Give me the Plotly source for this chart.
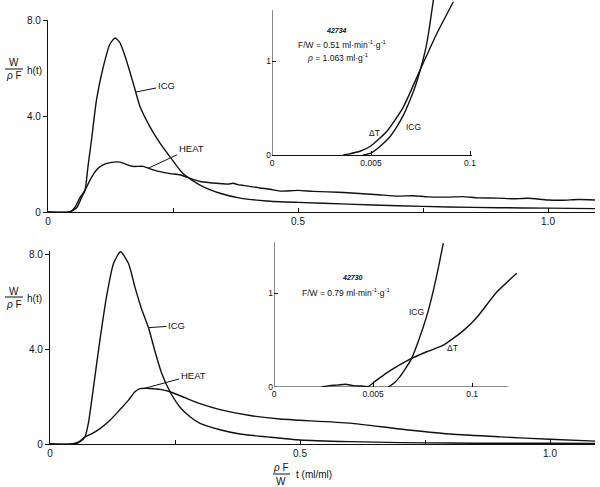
import plotly.graph_objects as go

# ---------------- data ----------------
top_icg_t = [0, 0.04, 0.048, 0.058, 0.067, 0.074, 0.08, 0.087, 0.097, 0.11, 0.124, 0.134, 0.144,
             0.154, 0.17, 0.184, 0.204, 0.224, 0.244, 0.27, 0.304, 0.344, 0.384, 0.437, 0.5,
             0.6, 0.7, 0.8, 0.9, 1.0, 1.094]
top_icg = [0, 0, 0.05, 0.2, 0.6, 0.9, 1.9, 3.0, 4.67, 6.0, 7.0, 7.25, 7.05,
           6.5, 5.4, 4.4, 3.55, 2.87, 2.3, 1.6, 1.12, 0.78, 0.58, 0.46, 0.4,
           0.33, 0.26, 0.21, 0.18, 0.16, 0.14]

top_heat_t = [0, 0.044, 0.054, 0.064, 0.074, 0.084, 0.097, 0.11, 0.127, 0.144, 0.157, 0.17, 0.19,
              0.204, 0.224, 0.245, 0.264, 0.284, 0.304, 0.324, 0.344, 0.36, 0.37, 0.38, 0.4,
              0.424, 0.444, 0.464, 0.5, 0.53, 0.56, 0.6, 0.63, 0.66, 0.7, 0.73, 0.76, 0.8,
              0.83, 0.86, 0.9, 0.93, 0.96, 1.0, 1.03, 1.06, 1.094]
top_heat = [0, 0, 0.2, 0.6, 0.9, 1.33, 1.75, 1.96, 2.07, 2.08, 1.98, 1.9, 1.9,
            1.8, 1.68, 1.6, 1.55, 1.4, 1.27, 1.22, 1.19, 1.16, 1.2, 1.14, 1.08,
            1.0, 0.95, 0.87, 0.9, 0.86, 0.84, 0.8, 0.76, 0.72, 0.66, 0.68, 0.63, 0.62,
            0.64, 0.59, 0.58, 0.55, 0.57, 0.5, 0.49, 0.52, 0.5]

bot_icg_t = [0, 0.05, 0.06, 0.07, 0.077, 0.087, 0.1, 0.113, 0.127, 0.141, 0.157, 0.17, 0.183,
             0.197, 0.21, 0.223, 0.24, 0.26, 0.28, 0.3, 0.34, 0.38, 0.434, 0.5, 0.6, 0.7,
             0.8, 0.9, 1.0, 1.09]
bot_icg = [0, 0, 0.1, 0.3, 0.9, 2.4, 4.4, 6.2, 7.6, 8.1, 7.6, 6.6, 5.7,
           4.9, 3.9, 3.0, 2.2, 1.55, 1.15, 0.87, 0.6, 0.42, 0.3, 0.17, 0.1, 0.06,
           0.04, 0.03, 0.03, 0.02]

bot_heat_t = [0, 0.04, 0.05, 0.06, 0.07, 0.085, 0.1, 0.12, 0.14, 0.157, 0.17, 0.18, 0.194,
              0.21, 0.22, 0.24, 0.27, 0.3, 0.34, 0.4, 0.46, 0.5, 0.6, 0.7, 0.8, 0.9, 1.0, 1.09]
bot_heat = [0, 0, 0.03, 0.12, 0.3, 0.45, 0.65, 1.0, 1.45, 1.85, 2.2, 2.33, 2.35,
            2.32, 2.3, 2.2, 1.95, 1.7, 1.45, 1.2, 1.05, 1.0, 0.88, 0.63, 0.42, 0.3, 0.2, 0.12]

# insets
top_dt_in_t = [0.036, 0.0386, 0.0445, 0.0495, 0.0579, 0.0663, 0.0751, 0.0832, 0.0916]
top_dt_in = [0, 0.01, 0.04, 0.09, 0.25, 0.51, 0.92, 1.29, 1.63]
top_icg_in_t = [0.046, 0.05, 0.0545, 0.059, 0.063, 0.0665, 0.0697, 0.0725, 0.0751, 0.0775, 0.079, 0.0815]
top_icg_in = [0, 0.02, 0.09, 0.18, 0.3, 0.43, 0.585, 0.74, 0.92, 1.12, 1.29, 1.65]

bot_dt_in_t = [0.024, 0.028, 0.032, 0.036, 0.04, 0.044, 0.0475, 0.051, 0.0569, 0.063, 0.0695,
               0.0771, 0.0855, 0.0956, 0.1024, 0.1125, 0.1226]
bot_dt_in = [0, 0.015, 0.02, 0.03, 0.015, 0.01, 0.005, 0.06, 0.15, 0.23, 0.305,
             0.375, 0.445, 0.6, 0.74, 1.01, 1.21]
bot_icg_in_t = [0.0577, 0.0605, 0.0636, 0.0665, 0.0695, 0.0754, 0.078, 0.0805, 0.083, 0.0855]
bot_icg_in = [0, 0.04, 0.11, 0.2, 0.305, 0.64, 0.82, 1.03, 1.27, 1.53]

main_xticks = [0, 0.5, 1.0]
main_xtext = ["0", "0.5", "1.0"]
main_xminor = [0.25, 0.75]
main_yticks = [0, 4, 8]
main_ytext = ["0", "4.0", "8.0"]
in_xticks = [0, 0.05, 0.1]
in_xtext = ["0", "0.005", "0.1"]
in_yticks = [0, 1]
in_ytext = ["0", "1"]

# ---------------- figure ----------------
W, H = 600, 487
FONT = "Liberation Sans, Arial, sans-serif"
INK = "#111111"


def px(x):
    return x / W


def py(y):
    return 1 - y / H


fig = go.Figure()
line = dict(color=INK, width=1.4, shape="spline", smoothing=0.6)


def add(t, v, xa, ya):
    fig.add_trace(go.Scatter(x=t, y=v, mode="lines", line=line, xaxis=xa, yaxis=ya,
                             showlegend=False, hoverinfo="skip", cliponaxis=True))


add(top_icg_t, top_icg, "x", "y")
add(top_heat_t, top_heat, "x", "y")
add(bot_icg_t, bot_icg, "x2", "y2")
add(bot_heat_t, bot_heat, "x2", "y2")
add(top_dt_in_t, top_dt_in, "x3", "y3")
add(top_icg_in_t, top_icg_in, "x3", "y3")
add(bot_dt_in_t, bot_dt_in, "x4", "y4")
add(bot_icg_in_t, bot_icg_in, "x4", "y4")

main_font = dict(family=FONT, size=10, color=INK)
in_font = dict(family=FONT, size=8.5, color=INK)
common = dict(showgrid=False, zeroline=False, tickcolor=INK,
              linecolor=INK, linewidth=1.2, ticklen=4, tickwidth=1, automargin=False)
minor = dict(tickvals=main_xminor, ticks="inside", ticklen=4, tickcolor=INK, tickwidth=1, showgrid=False)

fig.update_layout(
    width=W, height=H, margin=dict(l=0, r=0, t=0, b=0, autoexpand=False),
    paper_bgcolor="white", plot_bgcolor="rgba(0,0,0,0)",
    xaxis=dict(domain=[px(48), px(595)], range=[0, 1.094], anchor="y", showline=True,
               tickmode="array", tickvals=main_xticks, ticktext=main_xtext, ticks="inside",
               minor=minor, tickfont=main_font, **common),
    yaxis=dict(domain=[py(212), py(20)], range=[0, 8], anchor="x", showline=True,
               tickmode="array", tickvals=main_yticks, ticktext=main_ytext, ticks="outside",
               tickfont=main_font, **common),
    xaxis2=dict(domain=[px(50), px(595)], range=[0, 1.09], anchor="y2", showline=True,
                tickmode="array", tickvals=main_xticks, ticktext=main_xtext, ticks="inside",
                minor=minor, tickfont=main_font, **common),
    yaxis2=dict(domain=[py(444), py(251)], range=[0, 8.13], anchor="x2", showline=True,
                tickmode="array", tickvals=main_yticks, ticktext=main_ytext, ticks="outside",
                tickfont=main_font, **common),
    xaxis3=dict(domain=[px(272), px(472)], range=[0, 0.101], anchor="y3", showline=True,
                tickmode="array", tickvals=in_xticks, ticktext=in_xtext, ticks="inside",
                tickfont=in_font, **common),
    yaxis3=dict(domain=[py(155), py(0)], range=[0, 155 / 94], anchor="x3", showline=False,
                tickmode="array", tickvals=in_yticks, ticktext=in_ytext, ticks="inside",
                tickfont=in_font, **common),
    xaxis4=dict(domain=[px(274), px(519)], range=[0, 0.1237], anchor="y4", showline=False,
                tickmode="array", tickvals=in_xticks, ticktext=in_xtext, ticks="inside",
                tickfont=in_font, **common),
    yaxis4=dict(domain=[py(387), py(237)], range=[0, 150 / 94], anchor="x4", showline=False,
                tickmode="array", tickvals=in_yticks, ticktext=in_ytext, ticks="inside",
                tickfont=in_font, **common),
)

# inset axis lines (shorter than plot area)
shapes = [
    dict(type="line", xref="x3", yref="y3", x0=0, x1=0, y0=0, y1=1.54),
    dict(type="line", xref="x4", yref="y4", x0=0, x1=0, y0=0, y1=1.54),
    dict(type="line", xref="x4", yref="y4", x0=0, x1=0.118, y0=0, y1=0),
    # fraction bars
    dict(type="line", xref="paper", yref="paper", x0=px(5), x1=px(23), y0=py(69), y1=py(69)),
    dict(type="line", xref="paper", yref="paper", x0=px(5), x1=px(23), y0=py(297), y1=py(297)),
    dict(type="line", xref="paper", yref="paper", x0=px(273), x1=px(290), y0=py(474), y1=py(474)),
]
for s in shapes:
    s["line"] = dict(color=INK, width=1)
fig.update_layout(shapes=shapes)

ann = []


def text(x, y, s, size=9):
    ann.append(dict(x=px(x), y=py(y), xref="paper", yref="paper", text=s, showarrow=False,
                    xanchor="center", yanchor="middle",
                    font=dict(family=FONT, size=size, color=INK)))


# y-axis titles (fractions)
for (yw, yr, yh) in [(63, 76, 70), (291, 304, 298)]:
    text(14, yw, "W", 10)
    text(14, yr, "<i>ρ</i> F", 10)
    text(34, yh, "h(t)", 10)
# x-axis title
text(281, 467, "<i>ρ</i> F", 10)
text(281, 481, "W", 10)
text(314, 474, "t (ml/ml)", 10)

# inset texts
text(336, 30, "<b><i>42734</i></b>", 7)
text(342, 44, "F/W = 0.51 ml·min<sup>-1</sup>·g<sup>-1</sup>", 8.5)
text(338, 57, "<i>ρ</i> = 1.063 ml·g<sup>-1</sup>", 8.5)
text(374, 133, "ΔT", 8.5)
text(413, 127, "ICG", 8.5)
text(352, 277, "<b><i>42730</i></b>", 7)
text(346, 292, "F/W = 0.79 ml·min<sup>-1</sup>·g<sup>-1</sup>", 8.5)
text(417, 312, "ICG", 8.5)
text(452, 348, "ΔT", 8.5)


def leader(x, y, xa, ya, ax, ay, s):
    ann.append(dict(x=x, y=y, xref=xa, yref=ya, text=s, showarrow=True, arrowhead=0,
                    arrowwidth=1, arrowcolor=INK, ax=ax, ay=ay, standoff=0,
                    xanchor="center", yanchor="middle",
                    font=dict(family=FONT, size=9.5, color=INK)))


leader(0.176, 5.0, "x", "y", 30, -6, "ICG")
leader(0.2, 1.82, "x", "y", 43, -20, "HEAT")
leader(0.197, 4.9, "x2", "y2", 28, -2, "ICG")
leader(0.19, 2.35, "x2", "y2", 48, -13, "HEAT")

fig.update_layout(annotations=ann)
fig.write_html("out.html", config={"displayModeBar": False},
               post_script="document.body.style.margin='0';")
